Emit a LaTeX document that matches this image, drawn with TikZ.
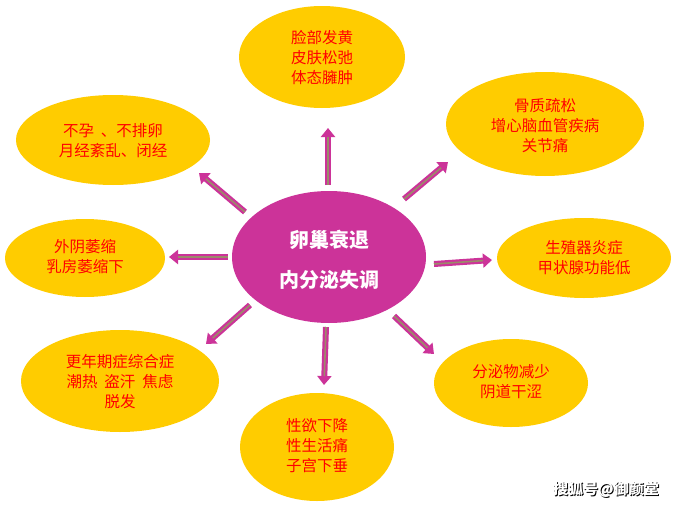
\documentclass[tikz,border=0pt]{standalone}
\usepackage{fontspec}
\newfontfamily\cjk{Noto Sans CJK SC}
\usetikzlibrary{arrows.meta}
\definecolor{ylw}{HTML}{FFCC00}
\definecolor{mag}{HTML}{CC3399}
\definecolor{olv}{HTML}{9C8A6A}
\definecolor{txtred}{HTML}{FF0000}
\tikzset{
  leaf/.style={text=txtred, font=\cjk\fontsize{15.5}{20}\selectfont, align=center, inner sep=0pt},
  arr/.style={mag, line width=6pt, -{Triangle[width=14pt,length=9pt]}},
  arrcore/.style={olv, line width=1.6pt, shorten >=9pt},
  wmark/.style={font=\cjk\bfseries\fontsize{15}{15}\selectfont},
}
\begin{document}
\begin{tikzpicture}[x=1pt,y=-1pt]
\useasboundingbox (0,0) rectangle (675,506);
\fill[white] (0,0) rectangle (675,506);
% ellipses (drawn as shapes)
\fill[mag] (329,257) ellipse [x radius=97, y radius=66];
\node[text=white, font=\cjk\bfseries\fontsize{20}{40}\selectfont, align=center] (c) at (329,260) {卵巢衰退\\内分泌失调};
\fill[ylw] (322,57) ellipse [x radius=83, y radius=51];
\node[leaf] (n1) at (322,58) {脸部发黄\\皮肤松弛\\体态臃肿};
\fill[ylw] (545,124) ellipse [x radius=99, y radius=52];
\node[leaf] (n2) at (545,126) {骨质疏松\\增心脑血管疾病\\关节痛};
\fill[ylw] (584,258) ellipse [x radius=87, y radius=40];
\node[leaf] (n3) at (584,258) {生殖器炎症\\甲状腺功能低};
\fill[ylw] (511,383) ellipse [x radius=77, y radius=44];
\node[leaf] (n4) at (511,382) {分泌物减少\\阴道干涩};
\fill[ylw] (317,447) ellipse [x radius=77, y radius=54];
\node[leaf] (n5) at (317,446) {性欲下降\\性生活痛\\子宫下垂};
\fill[ylw] (120,381) ellipse [x radius=99, y radius=51];
\node[leaf] (n6) at (120,382) {更年期症综合症\\潮热\ \ 盗汗\ \ 焦虑\\脱发};
\fill[ylw] (85,258) ellipse [x radius=80, y radius=39];
\node[leaf] (n7) at (85,257) {外阴萎缩\\乳房萎缩下};
\fill[ylw] (113,140) ellipse [x radius=97, y radius=45];
\node[leaf] (n8) at (113,141) {不孕\ \ 、不排卵\\月经紊乱、闭经};
% arrow end points
\coordinate (a1s) at (328,185); \coordinate (a1e) at (328,128);
\coordinate (a2s) at (404,199); \coordinate (a2e) at (448,162);
\coordinate (a3s) at (434,264); \coordinate (a3e) at (492,260);
\coordinate (a4s) at (394,316); \coordinate (a4e) at (434,354);
\coordinate (a5s) at (326,327); \coordinate (a5e) at (324,385);
\coordinate (a6s) at (250,305); \coordinate (a6e) at (206,344);
\coordinate (a7s) at (228,257); \coordinate (a7e) at (169,257);
\coordinate (a8s) at (245,212); \coordinate (a8e) at (199,173);
\foreach \i in {1,...,8}{
  \draw[arr] (a\i s) -- (a\i e);
  \draw[arrcore] (a\i s) -- (a\i e);
}
% watermark
\node[text=black, wmark] at (607,490) {搜狐号@御颜堂};
\node[text=white, wmark] (wm) at (606,489) {搜狐号@御颜堂};
\end{tikzpicture}
\end{document}
